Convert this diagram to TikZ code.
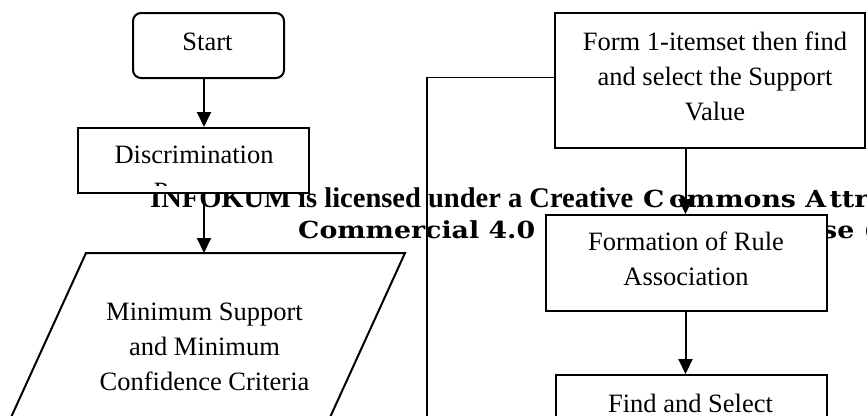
\documentclass[tikz,border=0pt]{standalone}
\usepackage{fontspec}
\setmainfont{Liberation Serif}
\newfontfamily\wmfont{DejaVu Serif}
\usepackage{graphicx}
\usetikzlibrary{arrows.meta}
\begin{document}
\begin{tikzpicture}[x=1pt,y=-1pt,
  box/.style={draw, line width=2pt, fill=white, inner sep=0pt},
  txt/.style={align=center, inner sep=0pt, font=\fontsize{26.5}{35}\selectfont},
  arr/.style={line width=2pt, -{Triangle[width=14pt,length=15pt]}},
  wmA/.style={anchor=base west, inner sep=0pt, font=\fontsize{28.5}{30}\selectfont\bfseries},
  wmB/.style={anchor=base west, inner sep=0pt, font=\wmfont\fontsize{23.5}{30}\selectfont\bfseries}]
\useasboundingbox (0,0) rectangle (867,415);

% watermark text (behind everything)
\node[wmA] (wm1) at (150,207) {INFOKUM is licensed under a Creative};
\node[wmB] (wm2) at (643,207) {\scalebox{1.14}[1]{C\kern4pt ommons A\kern3pt ttr}};
\node[wmB] (wm3) at (298,238) {\scalebox{1.14}[1]{Commercial 4.0}};
\node[wmB] (wm4) at (822,238) {\scalebox{1.14}[1]{se (}};

% left column
\node[box, rounded corners=8pt, minimum width=151, minimum height=65] (start) at (208.5,45.5) {};
\node[txt, anchor=base] (starttxt) at (207.5,50) {Start};

\node[box, minimum width=231, minimum height=65] (disc) at (193.5,160.5) {};
\node[txt, anchor=base] (disctxt) at (194,163) {Discrimination};
\begin{scope}
  \clip (80,130) rectangle (307,185);
  \node[txt, anchor=base] (proctxt) at (194,200) {Process};
\end{scope}

\draw[line width=2pt, fill=white] (86,253) -- (405,253) -- (306,470) -- (-13,470) -- cycle;
\coordinate (paratop) at (204,253);
\node[txt, anchor=base] (paratxt) at (204.5,390) {Minimum Support\\and Minimum\\Confidence Criteria};

% right column
\node[box, minimum width=310, minimum height=135] (form) at (710,80.5) {};
\node[txt, anchor=base] (formtxt) at (715,120) {Form 1-itemset then find\\and select the Support\\Value};

\node[box, minimum width=281, minimum height=96] (formation) at (686.5,263) {};
\node[txt, anchor=base] (formationtxt) at (686,285) {Formation of Rule\\Association};

\node[box, minimum width=271, minimum height=96, anchor=north] (find) at (691.5,374) {};
\node[txt, anchor=base] (findtxt) at (690.5,412) {Find and Select};

% connectors
\coordinate (colA) at (204,0);
\coordinate (colB) at (685.5,0);
\draw[arr] (start.south -| colA) -- (disc.north -| colA);
\draw[arr] (disc.south -| colA) -- (paratop);
\draw[arr] (form.south -| colB) -- (formation.north -| colB);
\draw[arr] (formation.south -| colB) -- (find.north -| colB);
\coordinate (loopL) at (427,77.5);
\coordinate (loopB) at (427,470);
\draw[line width=1.7pt] (form.west |- loopL) -- (loopL) -- (loopB);
\end{tikzpicture}
\end{document}
